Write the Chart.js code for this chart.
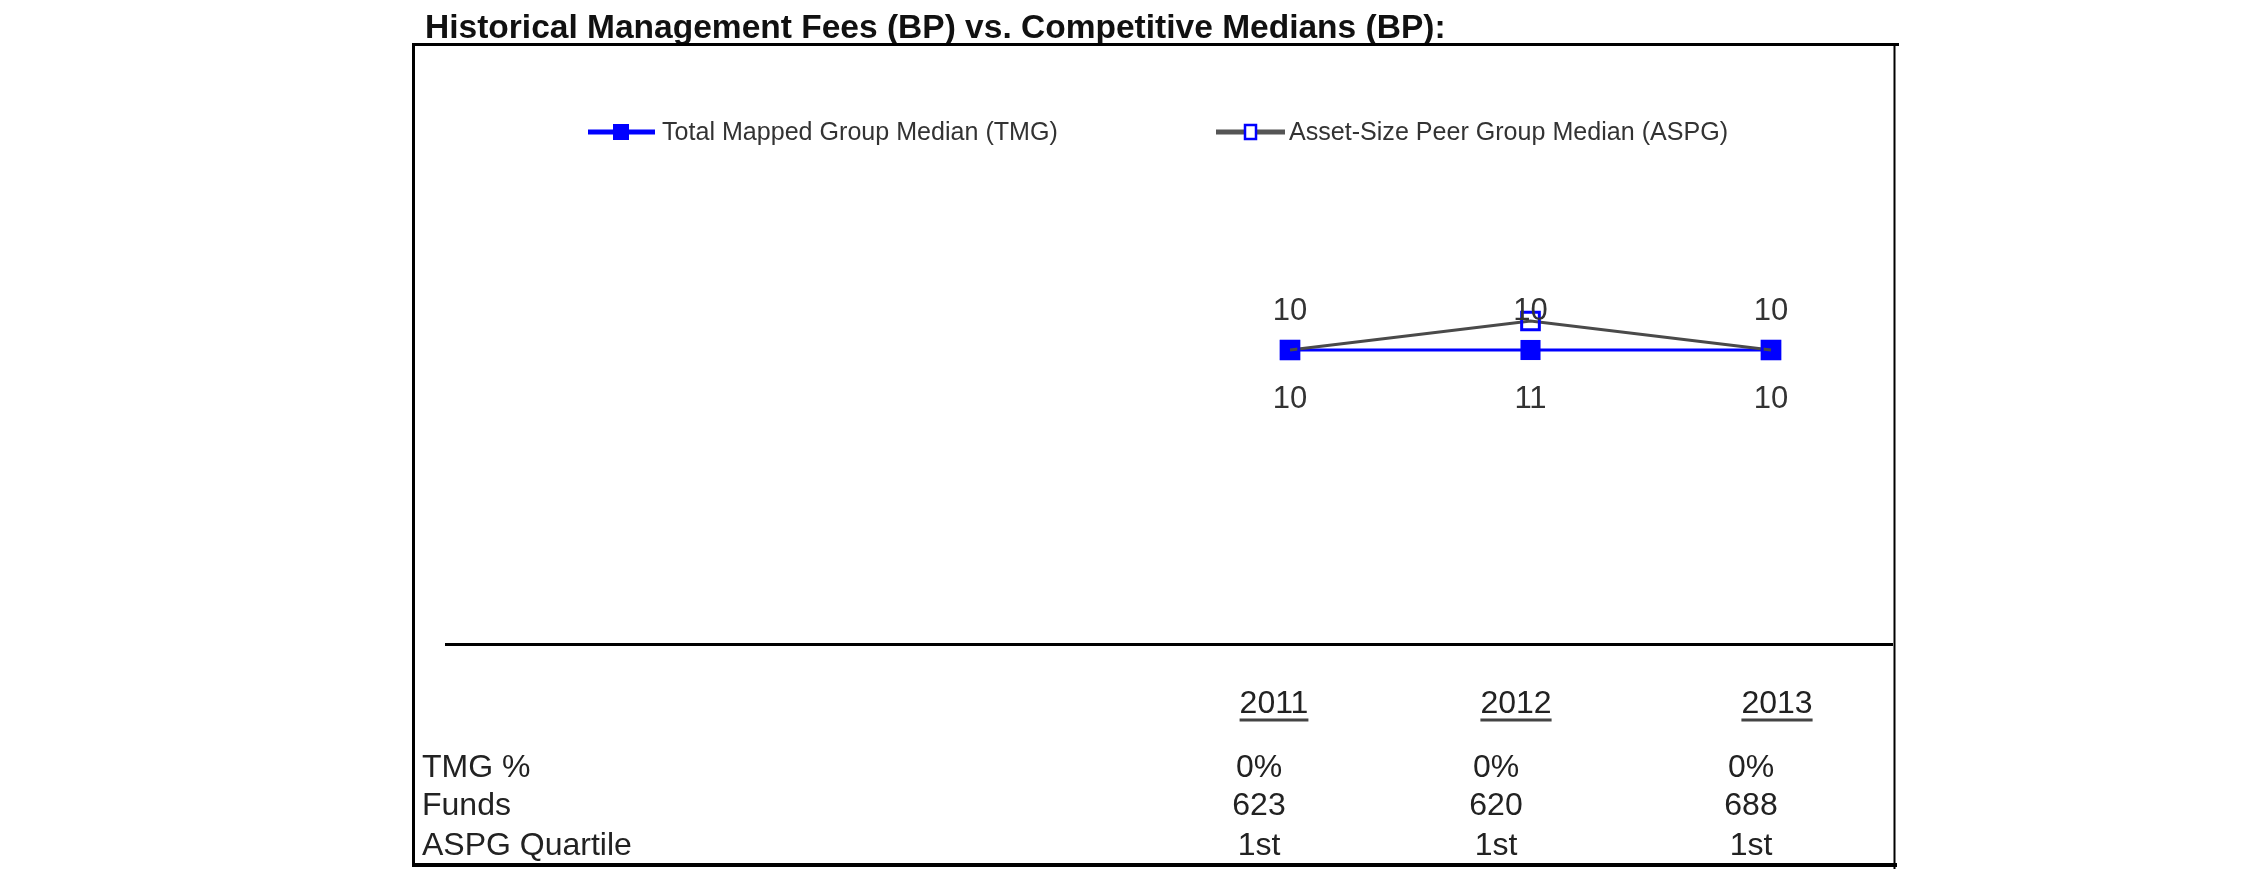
<!DOCTYPE html>
<html>
<head>
<meta charset="utf-8">
<script src="https://cdn.jsdelivr.net/npm/chart.js@4.4.1/dist/chart.umd.min.js"></script>
<style>
    html, body { margin: 0; padding: 0; background: #fff; }
    canvas { display: block; }
</style>
</head>
<body>
<canvas id="feeChart" width="2250" height="895"></canvas>
<script>
// chart data
const years = ['2011', '2012', '2013'];
const tmgValues = [10, 10, 10];
const aspgValues = [10, 11, 10];
const tmgPct = ['0%', '0%', '0%'];
const funds = ['623', '620', '688'];
const aspgQuartile = ['1st', '1st', '1st'];
const rowLabels = ['TMG %', 'Funds', 'ASPG Quartile'];
const titleText = 'Historical Management Fees (BP) vs. Competitive Medians (BP):';
const tmgName = 'Total Mapped Group Median (TMG)';
const aspgName = 'Asset-Size Peer Group Median (ASPG)';

const FONT = '"Liberation Sans", Arial, sans-serif';

// fit a string to a given pixel width
function fitFont(ctx, text, width, weight) {
    ctx.font = weight + ' 20px ' + FONT;
    const w = ctx.measureText(text).width;
    return weight + ' ' + (20 * width / w).toFixed(2) + 'px ' + FONT;
}

function hLine(ctx, x1, x2, y, w) {
    ctx.beginPath();
    ctx.lineWidth = w;
    ctx.moveTo(x1, y);
    ctx.lineTo(x2, y);
    ctx.stroke();
}

function vLine(ctx, x, y1, y2, w) {
    ctx.beginPath();
    ctx.lineWidth = w;
    ctx.moveTo(x, y1);
    ctx.lineTo(x, y2);
    ctx.stroke();
}

const decorPlugin = {
    id: 'decor',
    afterDraw(chart) {
        const ctx = chart.ctx;
        ctx.save();

        // title
        ctx.fillStyle = '#111';
        ctx.textBaseline = 'alphabetic';
        ctx.textAlign = 'left';
        ctx.font = fitFont(ctx, titleText, 1021, 'bold');
        ctx.fillText(titleText, 425, 38);

        // frame
        ctx.strokeStyle = '#000';
        hLine(ctx, 412, 1899, 44.5, 3);
        vLine(ctx, 413.5, 43, 867, 3);
        vLine(ctx, 1894.5, 43, 869, 2);
        hLine(ctx, 412, 1897, 865, 4);
        hLine(ctx, 445, 1893, 644.5, 3);

        // legend
        const legY = 132;
        ctx.strokeStyle = '#0000ff';
        hLine(ctx, 588, 655, legY, 5);
        ctx.fillStyle = '#0000ff';
        ctx.fillRect(613, legY - 8, 16, 16);
        ctx.strokeStyle = '#555';
        hLine(ctx, 1216, 1285, legY, 5);
        ctx.fillStyle = '#fff';
        ctx.fillRect(1245, legY - 7, 11, 14);
        ctx.strokeStyle = '#0000ff';
        ctx.lineWidth = 2.5;
        ctx.strokeRect(1245, legY - 7, 11, 14);

        ctx.fillStyle = '#333';
        ctx.textBaseline = 'middle';
        const legFont = fitFont(ctx, tmgName, 396, 'normal');
        ctx.font = legFont;
        ctx.fillText(tmgName, 662, legY + 1);
        ctx.fillText(aspgName, 1289, legY + 1);

        // data labels: TMG above, ASPG below
        const meta = chart.getDatasetMeta(1);
        ctx.font = '31px ' + FONT;
        ctx.textAlign = 'center';
        ctx.fillStyle = '#333';
        meta.data.forEach((pt, i) => {
            ctx.fillText(String(tmgValues[i]), pt.x, pt.y - 39);
            ctx.fillText(String(aspgValues[i]), pt.x, pt.y + 49);
        });

        // table below the chart
        const yearX = [1274, 1516, 1777];
        const valX = [1259, 1496, 1751];
        const rowY = [768, 806, 846];
        ctx.font = '32px ' + FONT;
        ctx.fillStyle = '#222';
        years.forEach((yr, i) => {
            ctx.textAlign = 'center';
            ctx.fillText(yr, yearX[i], 704);
            const w = ctx.measureText(yr).width;
            ctx.strokeStyle = '#444';
            hLine(ctx, yearX[i] - w / 2, yearX[i] + w / 2, 720, 3);
        });
        ctx.textAlign = 'left';
        rowLabels.forEach((lbl, r) => ctx.fillText(lbl, 422, rowY[r]));
        ctx.textAlign = 'center';
        [tmgPct, funds, aspgQuartile].forEach((row, r) => {
            row.forEach((v, i) => ctx.fillText(v, valX[i], rowY[r]));
        });

        ctx.restore();
    }
};

document.addEventListener('DOMContentLoaded', () => {
    const ctx = document.getElementById('feeChart').getContext('2d');
    new Chart(ctx, {
        type: 'line',
        data: {
            labels: years,
            datasets: [{
                label: aspgName,
                data: aspgValues,
                borderColor: '#4a4a4a',
                borderWidth: 3,
                pointStyle: 'rect',
                pointRadius: 12.5,
                pointBorderWidth: 3,
                pointBorderColor: '#0000ff',
                pointBackgroundColor: 'rgba(0,0,0,0)',
                tension: 0,
                clip: false,
                order: 0
            }, {
                label: tmgName,
                data: tmgValues,
                borderColor: '#0000ff',
                borderWidth: 3,
                pointStyle: 'rect',
                pointRadius: 14.2,
                pointBorderWidth: 0,
                pointBackgroundColor: '#0000ff',
                tension: 0,
                clip: false,
                order: 1
            }]
        },
        options: {
            responsive: false,
            animation: false,
            events: [],
            layout: {
                padding: { left: 1290, right: 479, top: 60, bottom: 255 }
            },
            plugins: {
                legend: { display: false },
                title: { display: false },
                tooltip: { enabled: false }
            },
            scales: {
                x: { display: false, offset: false },
                y: { display: false, min: 0, max: 20 }
            }
        },
        plugins: [decorPlugin]
    });
});
</script>
</body>
</html>
